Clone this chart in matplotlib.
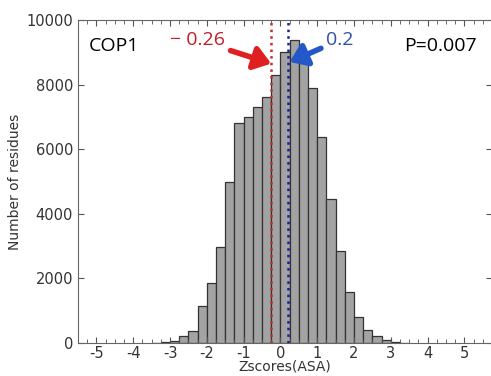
import matplotlib
matplotlib.use("Agg")
import matplotlib.pyplot as plt
from matplotlib.ticker import MultipleLocator

# histogram of Z-scores, bins of width 0.25
bin_edges = [-3.5 + 0.25 * i for i in range(29)]
counts = [5, 20, 70, 215, 380, 1145, 1850, 2980, 4990, 6800, 6985, 7320, 7630, 8300,
          9020, 9390, 8865, 7890, 6370, 4460, 2850, 1570, 815, 400, 215, 90, 40, 10]

mean_red = -0.26
mean_blue = 0.2
label_red = "\u2212 0.26"
label_blue = "0.2"
panel_name = "COP1"
p_text = "P=0.007"

plt.rcParams["axes.unicode_minus"] = False

fig = plt.figure(figsize=(4.91, 3.76), dpi=100)
ax = fig.add_axes([78 / 491, 1 - 343 / 376, 414 / 491, 323 / 376])

ax.hist(bin_edges[:-1], bins=bin_edges, weights=counts, color="#a3a3a3",
        edgecolor="#333333", linewidth=0.9)

ax.axvline(mean_red, color="#c0302c", linestyle=":", linewidth=1.8)
ax.axvline(mean_blue, color="#1c1c9c", linestyle=":", linewidth=1.8)

ax.set_xlim(-5.5, 5.75)
ax.set_ylim(0, 10000)
ax.xaxis.set_major_locator(MultipleLocator(1))
ax.xaxis.set_minor_locator(MultipleLocator(0.25))
ax.yaxis.set_major_locator(MultipleLocator(2000))
ax.tick_params(which="both", direction="in", top=True, right=True,
               colors="#555555", labelcolor="#333333", labelsize=10.5)
ax.tick_params(axis="x", pad=2)
ax.tick_params(which="major", length=4)
ax.tick_params(which="minor", length=3)
for s in ax.spines.values():
    s.set_color("#666666")

ax.set_xlabel("Zscores(ASA)", fontsize=10, color="#333333", labelpad=-1)
ax.set_ylabel("Number of residues", fontsize=10, color="#333333", labelpad=3)

ann_font = ["Open Sans", "DejaVu Sans"]
ax.annotate(label_red, xy=(-0.25, 8650), xytext=(-2.25, 9380),
            color="#c0202a", fontsize=14, family=ann_font, ha="center", va="center",
            arrowprops=dict(arrowstyle="-|>,head_length=0.7,head_width=0.5",
                            color="#e02020", lw=4, shrinkA=2, shrinkB=0))
ax.annotate(label_blue, xy=(0.25, 8700), xytext=(1.62, 9380),
            color="#3050a8", fontsize=14, family=ann_font, ha="center", va="center",
            arrowprops=dict(arrowstyle="-|>,head_length=0.7,head_width=0.5",
                            color="#2458c8", lw=4, shrinkA=2, shrinkB=0))

ax.text(0.027, 0.918, panel_name, transform=ax.transAxes, fontsize=14,
        family=ann_font, ha="left", va="center", color="black")
ax.text(0.787, 0.921, p_text, transform=ax.transAxes, fontsize=14,
        family=ann_font, ha="left", va="center", color="black")

fig.savefig("out.png", dpi=100)
